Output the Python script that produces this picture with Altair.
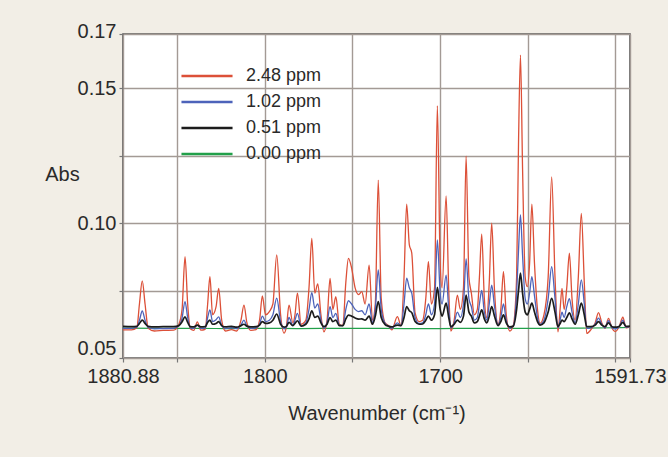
import altair as alt
import pandas as pd

# ---------------- data ----------------
WAVENUMBER = [
    1880.88, 1876.0, 1873.0, 1871.5, 1869.9, 1868.3, 1866.5, 1863.0, 1858.0, 1852.0,
    1849.0, 1847.2, 1845.5, 1844.0, 1842.5, 1840.5, 1838.5, 1836.5, 1834.0, 1832.6,
    1831.3, 1829.8, 1827.8, 1826.3, 1824.6, 1822.5, 1819.0, 1816.0, 1813.6, 1811.9,
    1810.2, 1808.0, 1805.0, 1803.0, 1801.4, 1799.6, 1797.4, 1795.4, 1793.2, 1791.0,
    1789.0, 1787.7, 1786.2, 1784.0, 1782.8, 1781.4, 1779.3, 1776.6, 1774.8, 1773.2,
    1771.5, 1769.8, 1768.0, 1766.3, 1764.5, 1762.8, 1761.2, 1759.5, 1757.5, 1755.5,
    1753.8, 1752.3, 1750.5, 1748.5, 1746.5, 1744.7, 1742.8, 1740.5, 1738.6, 1737.0,
    1735.3, 1733.6, 1731.4, 1729.5, 1727.6, 1724.4, 1722.3, 1720.6, 1719.1, 1717.6,
    1716.2, 1714.3, 1712.0, 1710.0, 1708.2, 1706.7, 1705.0, 1703.2, 1701.6, 1700.0,
    1698.9, 1696.6, 1695.1, 1693.9, 1692.0, 1690.2, 1688.5, 1686.7, 1685.2, 1683.6,
    1682.2, 1680.5, 1678.8, 1677.6, 1676.3, 1674.8, 1673.4, 1672.0, 1670.6, 1669.0,
    1667.0, 1665.4, 1663.9, 1662.3, 1660.3, 1658.3, 1656.4, 1655.3, 1654.2, 1653.0,
    1651.5, 1650.3, 1649.0, 1647.7, 1646.2, 1644.5, 1643.0, 1640.8, 1638.4, 1636.4,
    1634.5, 1632.8, 1631.6, 1630.5, 1629.3, 1627.8, 1626.3, 1624.8, 1623.0, 1621.2,
    1619.5, 1617.8, 1616.4, 1614.0, 1611.6, 1609.7, 1607.8, 1606.0, 1604.0, 1602.0,
    1600.2, 1598.0, 1595.8, 1594.0, 1591.73,
]

ABS_248 = [
    0.0604, 0.0604, 0.0612, 0.0700, 0.0786, 0.0700, 0.0610, 0.0600, 0.0602, 0.0603,
    0.0625, 0.0680, 0.0875, 0.0700, 0.0608, 0.0602, 0.0634, 0.0603, 0.0606, 0.0700,
    0.0801, 0.0660, 0.0690, 0.0758, 0.0640, 0.0600, 0.0605, 0.0600, 0.0640, 0.0696,
    0.0630, 0.0602, 0.0605, 0.0640, 0.0730, 0.0660, 0.0672, 0.0700, 0.0882, 0.0660,
    0.0592, 0.0615, 0.0696, 0.0630, 0.0660, 0.0740, 0.0625, 0.0640, 0.0760, 0.0943,
    0.0740, 0.0774, 0.0660, 0.0597, 0.0640, 0.0795, 0.0680, 0.0727, 0.0625, 0.0620,
    0.0780, 0.0869, 0.0833, 0.0760, 0.0735, 0.0746, 0.0700, 0.0844, 0.0640, 0.0700,
    0.1159, 0.0720, 0.0630, 0.0620, 0.0604, 0.0653, 0.0620, 0.0800, 0.1070, 0.0920,
    0.0889, 0.0667, 0.0635, 0.0640, 0.0720, 0.0857, 0.0700, 0.0760, 0.1434, 0.0850,
    0.0760, 0.1100, 0.0750, 0.0600, 0.0640, 0.0733, 0.0680, 0.0760, 0.1248, 0.0800,
    0.0740, 0.0660, 0.0680, 0.0800, 0.0959, 0.0720, 0.0650, 0.0780, 0.0999, 0.0750,
    0.0625, 0.0680, 0.0820, 0.0660, 0.0600, 0.0620, 0.0800, 0.1300, 0.1622, 0.1200,
    0.0800, 0.0764, 0.0850, 0.1070, 0.0850, 0.0680, 0.0629, 0.0660, 0.0800, 0.1171,
    0.0800, 0.0597, 0.0680, 0.0758, 0.0680, 0.0760, 0.0888, 0.0720, 0.0640, 0.0800,
    0.1036, 0.0780, 0.0591, 0.0605, 0.0630, 0.0668, 0.0630, 0.0610, 0.0647, 0.0610,
    0.0598, 0.0615, 0.0651, 0.0612, 0.0616,
]

ABS_102 = [
    0.0610, 0.0610, 0.0614, 0.0640, 0.0674, 0.0640, 0.0613, 0.0608, 0.0609, 0.0610,
    0.0620, 0.0648, 0.0709, 0.0650, 0.0612, 0.0610, 0.0622, 0.0610, 0.0611, 0.0650,
    0.0678, 0.0635, 0.0642, 0.0652, 0.0620, 0.0609, 0.0612, 0.0609, 0.0622, 0.0640,
    0.0618, 0.0610, 0.0612, 0.0625, 0.0655, 0.0635, 0.0640, 0.0660, 0.0722, 0.0635,
    0.0608, 0.0614, 0.0650, 0.0620, 0.0640, 0.0665, 0.0618, 0.0630, 0.0680, 0.0742,
    0.0685, 0.0700, 0.0640, 0.0610, 0.0630, 0.0690, 0.0650, 0.0665, 0.0622, 0.0620,
    0.0680, 0.0712, 0.0700, 0.0680, 0.0672, 0.0675, 0.0660, 0.0700, 0.0630, 0.0680,
    0.0826, 0.0680, 0.0628, 0.0618, 0.0610, 0.0630, 0.0620, 0.0700, 0.0796, 0.0760,
    0.0740, 0.0650, 0.0628, 0.0630, 0.0660, 0.0700, 0.0660, 0.0700, 0.0937, 0.0740,
    0.0700, 0.0807, 0.0680, 0.0612, 0.0630, 0.0670, 0.0650, 0.0700, 0.0867, 0.0720,
    0.0690, 0.0640, 0.0650, 0.0700, 0.0750, 0.0670, 0.0640, 0.0700, 0.0770, 0.0690,
    0.0622, 0.0650, 0.0700, 0.0640, 0.0610, 0.0618, 0.0740, 0.0900, 0.1030, 0.0880,
    0.0720, 0.0700, 0.0740, 0.0801, 0.0730, 0.0650, 0.0625, 0.0640, 0.0720, 0.0838,
    0.0720, 0.0612, 0.0640, 0.0670, 0.0650, 0.0690, 0.0720, 0.0670, 0.0630, 0.0700,
    0.0789, 0.0700, 0.0610, 0.0612, 0.0625, 0.0648, 0.0625, 0.0612, 0.0638, 0.0612,
    0.0608, 0.0615, 0.0640, 0.0614, 0.0616,
]

ABS_051 = [
    0.0617, 0.0616, 0.0617, 0.0628, 0.0640, 0.0628, 0.0617, 0.0615, 0.0616, 0.0616,
    0.0620, 0.0634, 0.0652, 0.0632, 0.0616, 0.0615, 0.0622, 0.0615, 0.0616, 0.0632,
    0.0640, 0.0625, 0.0628, 0.0635, 0.0620, 0.0615, 0.0617, 0.0614, 0.0620, 0.0625,
    0.0618, 0.0615, 0.0616, 0.0622, 0.0635, 0.0628, 0.0630, 0.0640, 0.0663, 0.0625,
    0.0614, 0.0617, 0.0632, 0.0620, 0.0628, 0.0638, 0.0618, 0.0625, 0.0645, 0.0675,
    0.0650, 0.0655, 0.0630, 0.0616, 0.0625, 0.0650, 0.0635, 0.0640, 0.0620, 0.0620,
    0.0645, 0.0659, 0.0655, 0.0648, 0.0644, 0.0645, 0.0640, 0.0655, 0.0625, 0.0655,
    0.0709, 0.0650, 0.0624, 0.0618, 0.0615, 0.0622, 0.0620, 0.0650, 0.0690, 0.0675,
    0.0668, 0.0635, 0.0625, 0.0626, 0.0640, 0.0655, 0.0640, 0.0660, 0.0762, 0.0680,
    0.0655, 0.0703, 0.0650, 0.0616, 0.0625, 0.0640, 0.0632, 0.0655, 0.0733, 0.0670,
    0.0655, 0.0630, 0.0635, 0.0655, 0.0678, 0.0645, 0.0630, 0.0655, 0.0690, 0.0655,
    0.0620, 0.0635, 0.0660, 0.0630, 0.0615, 0.0618, 0.0680, 0.0750, 0.0814, 0.0740,
    0.0670, 0.0660, 0.0680, 0.0703, 0.0670, 0.0635, 0.0622, 0.0630, 0.0670, 0.0721,
    0.0670, 0.0616, 0.0628, 0.0640, 0.0635, 0.0650, 0.0667, 0.0645, 0.0625, 0.0660,
    0.0703, 0.0660, 0.0616, 0.0616, 0.0622, 0.0635, 0.0622, 0.0616, 0.0630, 0.0616,
    0.0614, 0.0617, 0.0632, 0.0617, 0.0618,
]

WAVENUMBER_000 = [1880.88, 1860.0, 1840.0, 1820.0, 1800.0, 1780.0, 1760.0, 1740.0,
                  1720.0, 1700.0, 1680.0, 1660.0, 1640.0, 1620.0, 1600.0, 1591.73]
ABS_000 = [0.0611, 0.0610, 0.0610, 0.0609, 0.0610, 0.0609, 0.0610, 0.0610,
           0.0609, 0.0609, 0.0610, 0.0610, 0.0610, 0.0611, 0.0612, 0.0613]

SERIES = ["2.48 ppm", "1.02 ppm", "0.51 ppm", "0.00 ppm"]
COLORS = ["#dc5038", "#4d63ba", "#1c1c1c", "#22a04a"]
WIDTHS = [1.3, 1.3, 1.7, 1.2]

X_DOMAIN = [1591.73, 1880.88]
X_TICKS = [1880.88, 1850, 1800, 1750, 1700, 1650, 1600, 1591.73]
X_LABELS = [1880.88, 1800, 1700, 1591.73]
Y_DOMAIN = [0.05, 0.17]
Y_TICKS = [0.05, 0.075, 0.10, 0.125, 0.15, 0.17]
Y_LABELS = [0.05, 0.10, 0.15, 0.17]

assert len(WAVENUMBER) == len(ABS_248) == len(ABS_102) == len(ABS_051)

# ---------------- build table ----------------
frames = []
for name, vals in zip(SERIES[:3], [ABS_248, ABS_102, ABS_051]):
    frames.append(pd.DataFrame({"wn": WAVENUMBER, "abs": vals, "series": name}))
frames.append(pd.DataFrame({"wn": WAVENUMBER_000, "abs": ABS_000, "series": SERIES[3]}))
df = pd.concat(frames, ignore_index=True)

FONT = "Liberation Sans"
x_lab = "indexof([" + ",".join(str(v) for v in X_LABELS) + "], datum.value) >= 0 ? toString(datum.value) : ''"
y_lab = "indexof([" + ",".join(str(v) for v in Y_LABELS) + "], datum.value) >= 0 ? format(datum.value, '.2f') : ''"

x_enc = alt.X(
    "wn:Q",
    scale=alt.Scale(domain=X_DOMAIN, reverse=True, nice=False, zero=False),
    axis=alt.Axis(
        values=X_TICKS, labelExpr=x_lab, labelOverlap=False, labelFlush=False,
        title="Wavenumber (cm⁻¹)", titleY=55, titleBaseline="middle",
        labelPadding=4, tickSize=4,
    ),
)
y_enc = alt.Y(
    "abs:Q",
    scale=alt.Scale(domain=Y_DOMAIN, nice=False, zero=False),
    axis=alt.Axis(
        values=Y_TICKS, labelExpr=y_lab, labelOverlap=False,
        labelOffset={"condition": [{"test": "datum.value == 0.05", "value": -10},
                                   {"test": "datum.value == 0.17", "value": -3}],
                     "value": 0},
        title="Abs", titleAngle=0, titleX=-61, titleY=140,
        titleAlign="center", titleBaseline="middle",
        labelPadding=3, tickSize=4,
    ),
)
color_enc = alt.Color(
    "series:N",
    scale=alt.Scale(domain=SERIES, range=COLORS),
    legend=alt.Legend(
        title=None, orient="none", legendX=75, legendY=33,
        symbolType="M-4,0L4,0", symbolSize=163, symbolStrokeWidth=2.6,
        labelOffset=30, labelFontSize=18, labelFont=FONT, labelColor="#2a2a2a",
        rowPadding=8, padding=0,
    ),
)

draw_order = [3, 0, 1, 2]
layers = []
for i in draw_order:
    layers.append(
        alt.Chart(df)
        .transform_filter(alt.datum.series == SERIES[i])
        .mark_line(interpolate="monotone", strokeWidth=WIDTHS[i], clip=True)
        .encode(x=x_enc, y=y_enc, color=color_enc)
    )

chart = (
    alt.layer(*layers)
    .properties(
        width=507, height=324,
        background="#f2eee6",
        padding={"left": 123, "top": 34, "right": 38, "bottom": 99},
        autosize=alt.AutoSizeParams(type="none"),
    )
    .configure_view(fill="white", stroke="#555555", strokeWidth=1.6)
    .configure_axis(
        labelFont=FONT, titleFont=FONT, labelFontSize=20, titleFontSize=20,
        labelColor="#2a2a2a", titleColor="#2a2a2a", titleFontWeight="normal",
        domain=False, grid=True, gridColor="#a39a95", gridWidth=1.4, gridOpacity=1,
        tickColor="#777777", tickWidth=1.2,
    )
)

chart.save("out.html", embed_options={"renderer": "svg", "actions": False})
